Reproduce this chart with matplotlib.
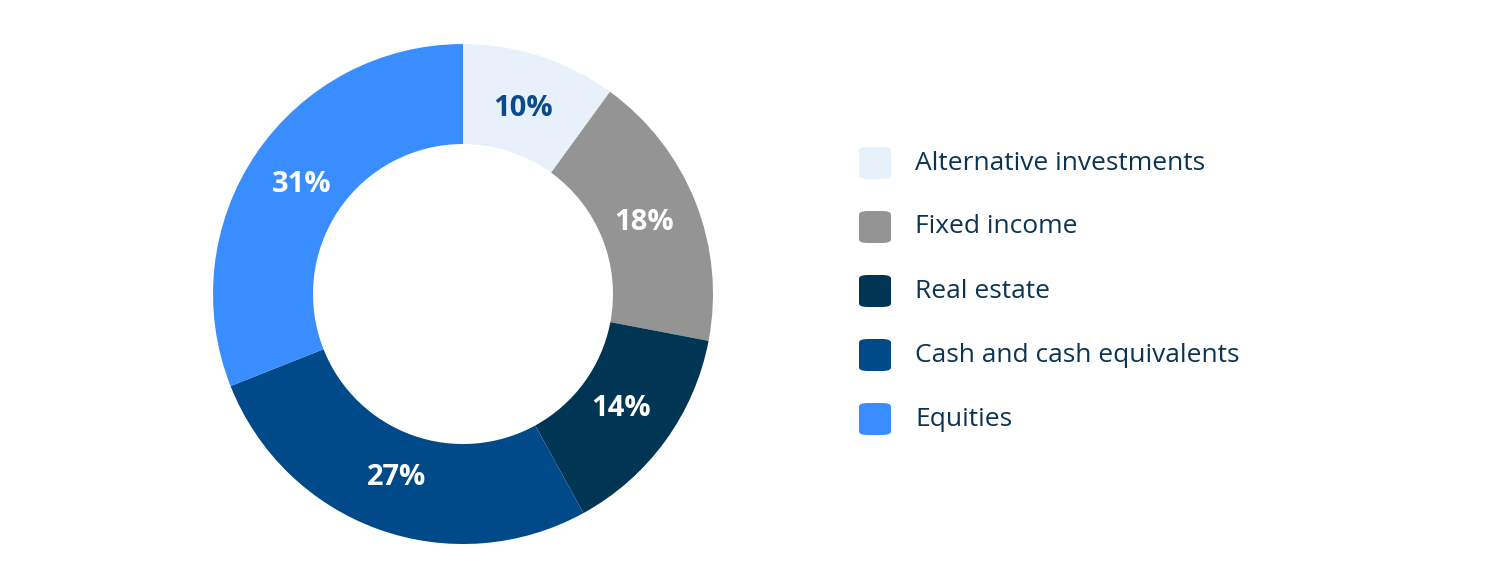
import matplotlib.pyplot as plt
from matplotlib.patches import FancyBboxPatch

categories = ["Alternative investments", "Fixed income", "Real estate",
              "Cash and cash equivalents", "Equities"]
values = [10, 18, 14, 27, 31]
colors = ["#E8F0FA", "#949494", "#003554", "#004A8A", "#3A8DFF"]
label_colors = ["#0B4A8B", "white", "white", "white", "white"]

plt.rcParams["font.family"] = "Open Sans"

fig = plt.figure(figsize=(15, 5.88), dpi=100)
ax = fig.add_axes([0.142, 0.0748, 1000 / 3000, 500 / 588])

wedges, texts, autotexts = ax.pie(
    values, colors=colors, startangle=90, counterclock=False,
    wedgeprops=dict(width=0.4, linewidth=0),
    autopct=lambda p: f"{p:.0f}%", pctdistance=0.78,
)
for t, c in zip(autotexts, label_colors):
    t.set_color(c)
    t.set_fontsize(21)
    t.set_fontweight("bold")
ax.set_xlim(-1, 1)
ax.set_ylim(-1, 1)
ax.set_aspect("equal")

# legend drawn by hand to match the rounded swatches
for i, (name, col) in enumerate(zip(categories, colors)):
    yc = 1 - (163 + 64 * i) / 588
    fig.patches.append(FancyBboxPatch(
        (859 / 1500, yc - 16 / 588), 32 / 1500, 32 / 588,
        boxstyle="round,pad=0,rounding_size=0.006",
        transform=fig.transFigure, facecolor=col, edgecolor="none"))
    fig.text(915 / 1500, yc, name, fontsize=19, color="#0B3454",
             va="center", ha="left")

fig.savefig("out.png", dpi=100)
